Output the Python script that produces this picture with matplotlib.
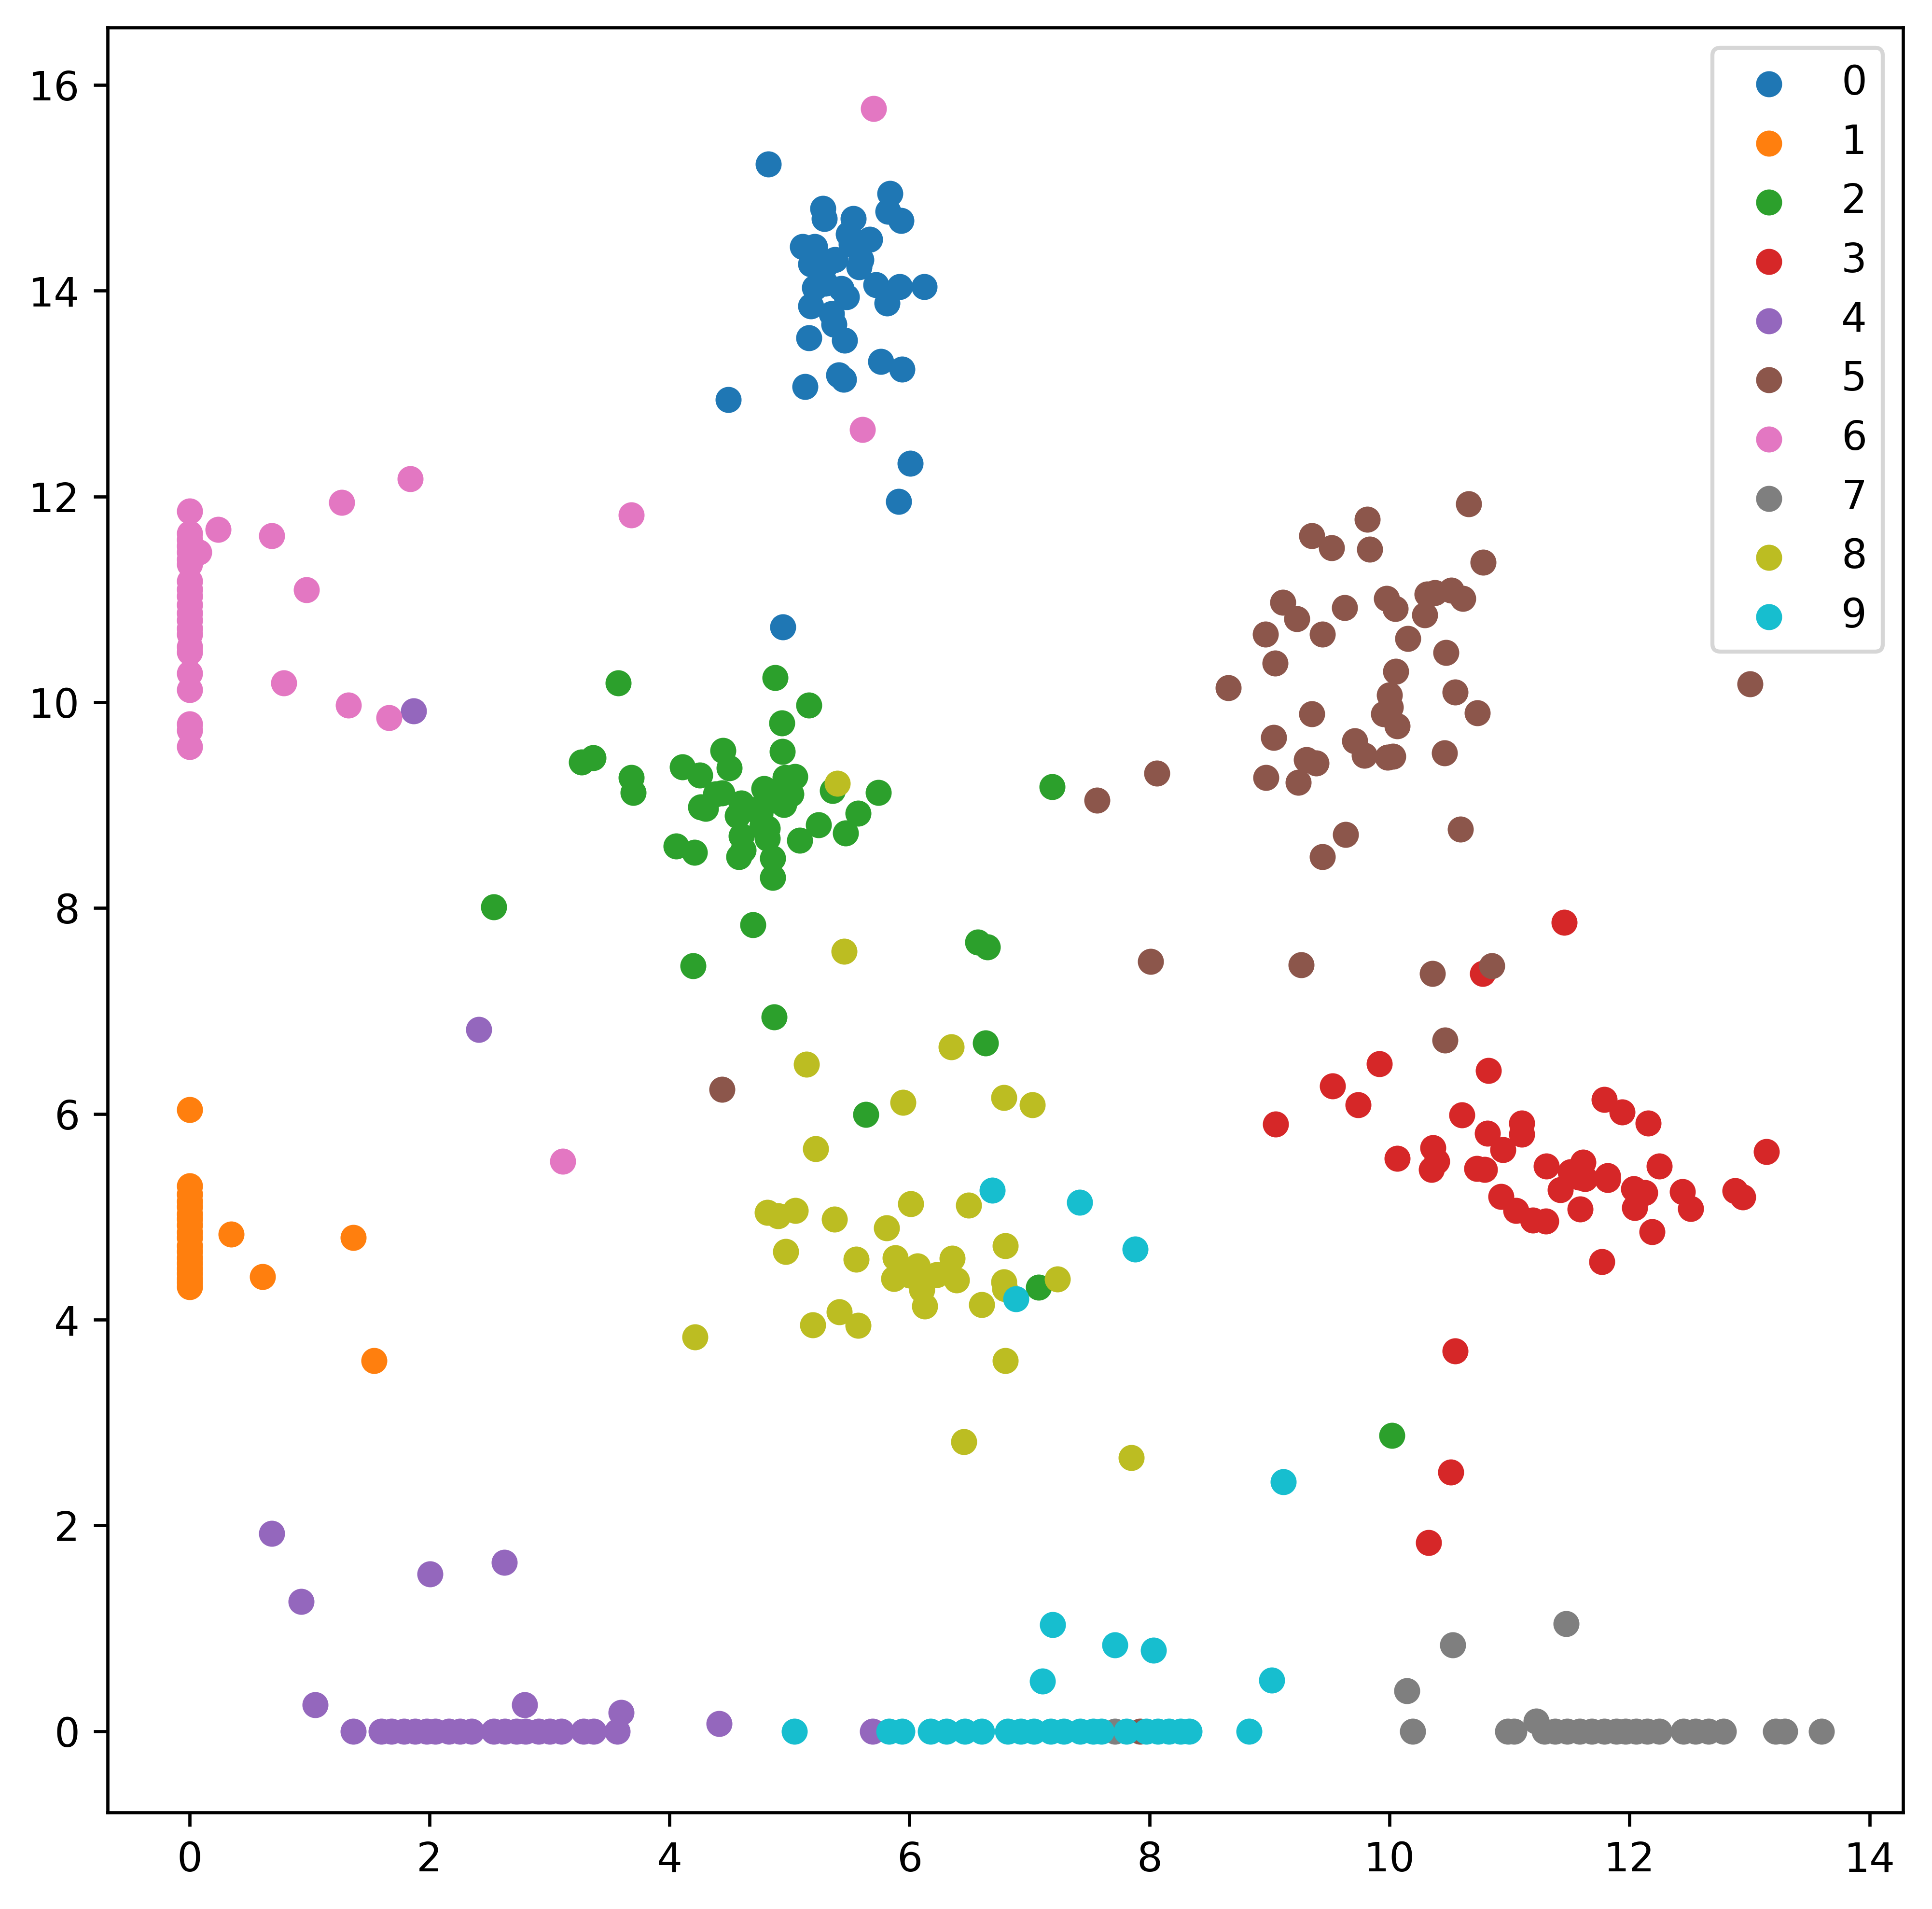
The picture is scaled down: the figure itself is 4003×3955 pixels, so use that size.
import matplotlib
matplotlib.use("Agg")
import matplotlib.pyplot as plt

# cluster 0
x0 = [4.825, 5.837, 5.278, 5.29, 5.82, 5.93, 5.53, 5.49, 5.515, 5.67, 5.11, 5.21,
      5.595, 5.58, 5.38, 5.18, 5.29, 5.21, 5.30, 5.43, 5.475, 5.72, 5.92, 6.125,
      5.815, 5.18, 5.35, 5.37, 5.16, 5.46, 5.76, 5.94, 5.41, 5.45, 5.13, 4.49,
      6.005, 5.91, 4.945]
y0 = [15.23, 14.945, 14.80, 14.70, 14.77, 14.68, 14.70, 14.55, 14.45, 14.50, 14.43, 14.43,
      14.30, 14.23, 14.30, 14.26, 14.23, 14.03, 14.07, 14.02, 13.94, 14.06, 14.04, 14.04,
      13.88, 13.85, 13.775, 13.675, 13.54, 13.52, 13.31, 13.235, 13.18, 13.14, 13.07, 12.94,
      12.32, 11.95, 10.73]

# cluster 1
x1 = [0, 0, 0, 0, 0, 0, 0, 0, 0, 0, 0, 0, 0, 0, 0, 0, 0, 0, 0,
      0.349, 0.61, 1.365, 1.54]
y1 = [6.04, 5.30, 5.22, 5.15, 5.10, 5.03, 4.98, 4.92, 4.85, 4.80, 4.72, 4.66,
      4.60, 4.55, 4.50, 4.45, 4.40, 4.36, 4.32,
      4.83, 4.42, 4.80, 3.60]

# cluster 2
x2 = [3.574, 4.879, 5.161, 4.935, 4.939, 3.266, 3.365, 3.68, 3.70, 4.109, 4.255, 4.446,
      4.497, 4.965, 5.047, 5.359, 5.74, 4.384, 4.439, 4.26, 4.30, 4.787, 4.82, 5.014,
      4.952, 4.598, 4.782, 4.567, 4.754, 4.772, 4.818, 4.598, 4.617, 4.58, 4.818, 4.862,
      4.862, 5.242, 5.571, 5.087, 5.469, 4.054, 4.208, 4.695, 4.196, 4.871,
      2.535, 6.57, 6.65, 7.19, 6.633, 5.636, 7.075, 10.02]
y2 = [10.19, 10.24, 9.97, 9.80, 9.52, 9.42, 9.46, 9.27, 9.125, 9.37, 9.29, 9.53,
      9.36, 9.27, 9.28, 9.14, 9.125, 9.11, 9.12, 8.98, 8.97, 9.16, 9.105, 9.11,
      9.007, 9.02, 9.007, 8.90, 8.91, 8.79, 8.774, 8.70, 8.565, 8.50, 8.676, 8.487,
      8.296, 8.81, 8.92, 8.66, 8.73, 8.60, 8.54, 7.84, 7.44, 6.94,
      8.01, 7.67, 7.62, 9.18, 6.69, 5.995, 4.317, 2.876]

# cluster 3
x3 = [11.456, 10.777, 9.914, 10.825, 9.527, 9.74, 9.05, 11.79, 11.94, 12.156, 10.603,
      10.817, 11.102, 11.102, 10.947, 13.14, 10.362, 10.395, 10.35, 10.066, 10.728,
      10.794, 11.307, 11.509, 11.614, 11.628, 11.581, 11.819, 11.819, 12.248, 11.424,
      12.034, 12.128, 12.44, 12.88, 12.943, 10.93, 11.055, 11.193, 11.304, 11.589,
      12.042, 12.508, 12.187, 11.77, 10.548, 10.51, 10.326]
y3 = [7.863, 7.366, 6.486, 6.42, 6.27, 6.09, 5.90, 6.14, 6.016, 5.91, 5.99,
      5.81, 5.91, 5.80, 5.65, 5.634, 5.67, 5.54, 5.46, 5.566, 5.467,
      5.46, 5.49, 5.435, 5.53, 5.37, 5.385, 5.363, 5.40, 5.49, 5.264,
      5.272, 5.232, 5.244, 5.252, 5.19, 5.196, 5.06, 4.965, 4.957, 5.077,
      5.09, 5.081, 4.854, 4.564, 3.696, 2.517, 1.833]

# cluster 4
x4 = [1.87, 2.41, 0.687, 0.931, 2.005, 2.626, 1.047, 2.795, 3.596, 4.415,
      1.365, 1.60, 1.683, 1.788, 1.88, 1.975, 2.05, 2.16, 2.256, 2.35, 2.537,
      2.63, 2.724, 2.80, 2.91, 3.004, 3.098, 3.285, 3.368, 3.566, 5.694]
y4 = [9.915, 6.82, 1.92, 1.263, 1.53, 1.64, 0.259, 0.259, 0.18, 0.076,
      0, 0, 0, 0, 0, 0, 0, 0, 0, 0, 0,
      0, 0, 0, 0, 0, 0, 0, 0, 0, 0]

# cluster 5
x5 = [10.66, 9.814, 9.354, 9.518, 9.834, 10.78, 9.113, 9.229, 8.968, 9.44, 9.628,
      9.978, 10.047, 10.314, 10.38, 10.516, 10.61, 10.294, 10.155, 10.471, 9.048,
      10.053, 8.655, 10.548, 10.734, 10.002, 10.01, 9.953, 10.065, 9.354, 9.036,
      9.712, 9.79, 9.986, 10.027, 9.307, 9.39, 10.458, 8.97, 9.24, 9.635, 10.59,
      9.443, 9.265, 10.358, 10.852, 10.463, 7.565, 8.06, 8.01, 13.005, 4.438, 7.92]
y5 = [11.93, 11.78, 11.62, 11.50, 11.486, 11.36, 10.97, 10.81, 10.66, 10.66, 10.92,
      11.01, 10.91, 11.05, 11.065, 11.09, 11.01, 10.85, 10.62, 10.485, 10.38,
      10.30, 10.14, 10.10, 9.897, 10.07, 9.952, 9.89, 9.77, 9.89, 9.66,
      9.627, 9.486, 9.467, 9.477, 9.44, 9.41, 9.507, 9.27, 9.22, 8.713, 8.765,
      8.50, 7.446, 7.366, 7.437, 6.717, 9.05, 9.31, 7.48, 10.18, 6.24, 0]

# cluster 6
x6 = [0] * 22 + [0.238, 0.077, 0.687, 1.269, 1.838, 0.975, 0.787, 1.326, 1.663,
                 3.68, 3.11, 5.70, 5.61]
y6 = [11.86, 11.64, 11.58, 11.52, 11.46, 11.39, 11.34, 11.18, 11.10, 11.03, 10.95,
      10.87, 10.80, 10.72, 10.66, 10.54, 10.49, 10.28, 10.12, 9.79, 9.73, 9.57,
      11.68, 11.46, 11.62, 11.94, 12.17, 11.095, 10.19, 9.97, 9.85,
      11.82, 5.54, 15.77, 12.65]

# cluster 7
x7 = [11.473, 10.528, 10.146, 11.222, 10.195, 10.985, 11.036, 11.29, 11.38, 11.48,
      11.585, 11.687, 11.79, 11.89, 11.967, 12.056, 12.146, 12.248, 12.45, 12.55,
      12.657, 12.784, 13.216, 13.295, 13.60, 7.71]
y7 = [1.044, 0.838, 0.395, 0.098, 0, 0, 0, 0, 0, 0,
      0, 0, 0, 0, 0, 0, 0, 0, 0, 0,
      0, 0, 0, 0, 0, 0]

# cluster 8
x8 = [6.347, 5.14, 5.948, 6.785, 7.026, 5.217, 6.01, 6.495, 4.815, 4.904, 5.05, 5.377,
      5.808, 4.969, 5.556, 5.881, 6.065, 6.357, 6.80, 5.868, 6.004, 6.227, 6.392, 6.104,
      6.129, 6.785, 6.796, 7.235, 6.602, 5.415, 5.196, 5.571, 4.213, 6.798, 6.455,
      7.85, 5.40, 5.455]
y8 = [6.65, 6.48, 6.11, 6.16, 6.09, 5.66, 5.126, 5.11, 5.04, 5.01, 5.06, 4.976,
      4.89, 4.66, 4.586, 4.60, 4.52, 4.594, 4.72, 4.40, 4.43, 4.436, 4.385, 4.29,
      4.133, 4.365, 4.30, 4.396, 4.145, 4.077, 3.95, 3.946, 3.83, 3.60, 2.815,
      2.66, 9.21, 7.58]

# cluster 9
x9 = [6.689, 7.42, 6.887, 7.88, 9.117, 7.193, 7.711, 8.032, 7.108, 9.017,
      5.041, 5.83, 5.94, 6.175, 6.31, 6.462, 6.60, 6.818, 6.929, 7.038, 7.175,
      7.285, 7.422, 7.532, 7.60, 7.807, 7.972, 8.068, 8.164, 8.26, 8.33, 8.828]
y9 = [5.256, 5.14, 4.204, 4.686, 2.426, 1.038, 0.841, 0.789, 0.489, 0.498,
      0, 0, 0, 0, 0, 0, 0, 0, 0, 0, 0,
      0, 0, 0, 0, 0, 0, 0, 0, 0, 0, 0]

xs = [x0, x1, x2, x3, x4, x5, x6, x7, x8, x9]
ys = [y0, y1, y2, y3, y4, y5, y6, y7, y8, y9]

fig = plt.figure(figsize=(4004 / 600, 3955 / 600), dpi=600)
ax = fig.add_axes([0.0558, 0.0506, 0.929, 0.935])
for i in range(10):
    ax.scatter(xs[i], ys[i], s=30, label=str(i))
ax.legend(loc="upper right")
fig.savefig("out.png", dpi=600)
